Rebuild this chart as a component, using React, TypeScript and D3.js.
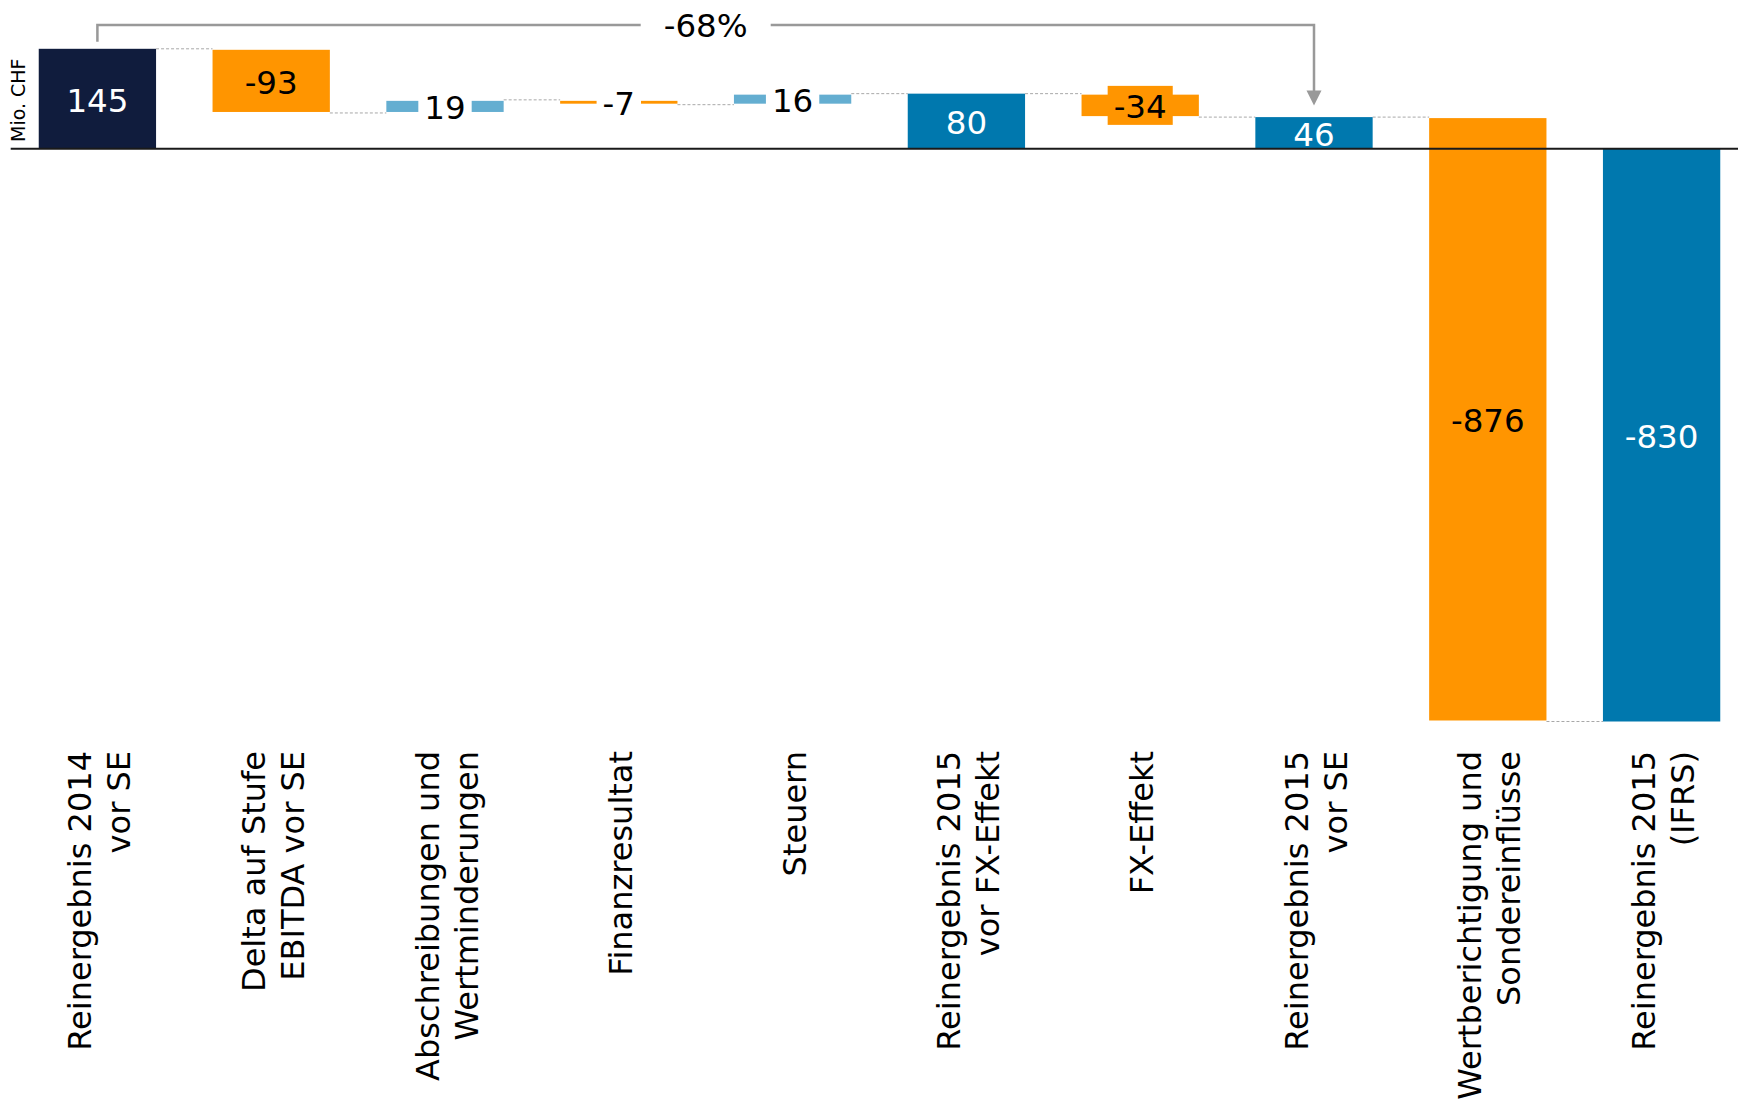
import React from "react";
import * as d3 from "d3";

// ---- data ----
const categoryLines: string[][] = [
  ["Reinergebnis 2014", "vor SE"],
  ["Delta auf Stufe", "EBITDA vor SE"],
  ["Abschreibungen und", "Wertminderungen"],
  ["Finanzresultat"],
  ["Steuern"],
  ["Reinergebnis 2015", "vor FX-Effekt"],
  ["FX-Effekt"],
  ["Reinergebnis 2015", "vor SE"],
  ["Wertberichtigung und", "Sondereinflüsse"],
  ["Reinergebnis 2015", "(IFRS)"],
];
const values = [145, -93, 19, -7, 16, 80, -34, 46, -876, -830];
const barKinds = ["start", "delta", "delta", "delta", "delta", "total", "delta", "total", "delta", "total"];
const unitLabel = "Mio. CHF";
const bracketFrom = 0;
const bracketTo = 7;
const bracketLabel = "-68%";

// ---- layout ----
const W = 1738;
const H = 1099;
const FONT = "'DejaVu Sans', Verdana, sans-serif";
const VALUE_FS = 32.5;
const CAT_FS = 32;

const COLORS: Record<string, string> = {
  start: "#101c3d",
  total: "#0078ae",
  pos: "#64aed1",
  neg: "#ff9500",
};

function measure(text: string, fs: number): number {
  try {
    const c = document.createElement("canvas").getContext("2d");
    if (c) {
      c.font = `${fs}px 'DejaVu Sans'`;
      return c.measureText(text).width;
    }
  } catch (e) {}
  return text.length * fs * 0.6;
}

export default function App() {
  const keys = categoryLines.map((l, i) => String(i));
  const x = d3
    .scaleBand<string>()
    .domain(keys)
    .range([10.5, 1748.5])
    .paddingInner(0.325)
    .paddingOuter(0.1625);
  const bw = x.bandwidth();
  const y = d3.scaleLinear().domain([-830, 145]).range([721.5, 48.8]);

  let run = 0;
  const segs = values.map((v, i) => {
    const kind = barKinds[i];
    let y0: number, y1: number;
    if (kind === "delta") {
      y0 = run;
      y1 = run + v;
      run = y1;
    } else {
      y0 = 0;
      y1 = v;
      run = v;
    }
    const color = kind === "delta" ? (v >= 0 ? COLORS.pos : COLORS.neg) : COLORS[kind];
    let top = y(Math.max(y0, y1));
    let bottom = y(Math.min(y0, y1));
    if (kind === "delta") {
      top += 1;
      bottom -= 1;
      if (bottom - top < 2.5) {
        const m = (top + bottom) / 2;
        top = m - 1.3;
        bottom = m + 1.3;
      }
    }
    const nomH = Math.abs(y(y0) - y(y1));
    return { i, kind, v, y0, y1, end: y1, color, top, bottom, nomH, x0: x(String(i))! };
  });

  const capV = 0.729 * VALUE_FS;
  const capC = 0.729 * CAT_FS;
  const axisY = y(0);

  const bx0 = x(String(bracketFrom))! + bw / 2;
  const bx1 = x(String(bracketTo))! + bw / 2;
  const bTop = 25;
  const bLeftBottom = y(values[bracketFrom]) - 7;
  const arrowTip = y(values[bracketTo]) - 11.5;
  const bMid = (bx0 + bx1) / 2;
  const gap = 65;

  return (
    <svg
      width={W}
      height={H}
      viewBox={`0 0 ${W} ${H}`}
      style={{ position: "absolute", left: 0, top: 0, background: "#fff" }}
      fontFamily={FONT}
    >
      <rect x={0} y={0} width={W} height={H} fill="#fff" />
      {/* connectors */}
      {segs.slice(0, -1).map((s) => {
        const next = segs[s.i + 1];
        const yy = y(s.end);
        return (
          <line
            key={"c" + s.i}
            x1={s.x0 + bw}
            x2={next.x0}
            y1={yy}
            y2={yy}
            stroke="#a8a8a8"
            strokeWidth={1}
            strokeDasharray="3,2"
          />
        );
      })}
      {/* bars */}
      {segs.map((s) => (
        <rect
          key={"b" + s.i}
          x={s.x0}
          y={s.top}
          width={bw}
          height={s.bottom - s.top}
          fill={s.color}
        />
      ))}
      {/* axis */}
      <line x1={10.7} x2={W} y1={axisY} y2={axisY} stroke="#1a1a1a" strokeWidth={2} />
      {/* value labels */}
      {segs.map((s) => {
        const label = String(s.v);
        const cy = (s.top + s.bottom) / 2;
        const cx = s.x0 + bw / 2;
        const boxed = s.nomH < 30;
        const tw = measure(label, VALUE_FS);
        const boxFill = s.nomH >= 15 ? s.color : "#fff";
        const textFill = s.kind === "delta" ? "#000" : "#fff";
        return (
          <g key={"l" + s.i}>
            {boxed && (
              <rect x={cx - tw / 2 - 6} y={cy - 19.5} width={tw + 12} height={39} fill={boxFill} />
            )}
            <text
              x={cx}
              y={cy + capV / 2 + 1}
              textAnchor="middle"
              fontSize={VALUE_FS}
              fill={textFill}
            >
              {label}
            </text>
          </g>
        );
      })}
      {/* bracket */}
      <path
        d={`M${bx0},${bLeftBottom} V${bTop} H${bMid - gap} M${bMid + gap},${bTop} H${bx1} V${arrowTip - 14}`}
        fill="none"
        stroke="#999"
        strokeWidth={2.5}
      />
      <polygon
        points={`${bx1 - 7.5},${arrowTip - 15} ${bx1 + 7.5},${arrowTip - 15} ${bx1},${arrowTip}`}
        fill="#999"
      />
      <text x={bMid} y={bTop + capV / 2} textAnchor="middle" fontSize={VALUE_FS} fill="#000">
        {bracketLabel}
      </text>
      {/* category labels */}
      {categoryLines.map((lines, i) => {
        const cx = x(String(i))! + bw / 2 + 1.5;
        const n = lines.length;
        return (
          <g key={"cat" + i} transform={`translate(${cx},751) rotate(-90)`}>
            {lines.map((ln, j) => (
              <text
                key={j}
                x={0}
                y={capC / 2 + (j - (n - 1) / 2) * 39}
                textAnchor="end"
                fontSize={CAT_FS}
                fill="#000"
              >
                {ln}
              </text>
            ))}
          </g>
        );
      })}
      {/* unit label */}
      <text transform="translate(25,142) rotate(-90)" textAnchor="start" fontSize={19} fill="#000">
        {unitLabel}
      </text>
    </svg>
  );
}
